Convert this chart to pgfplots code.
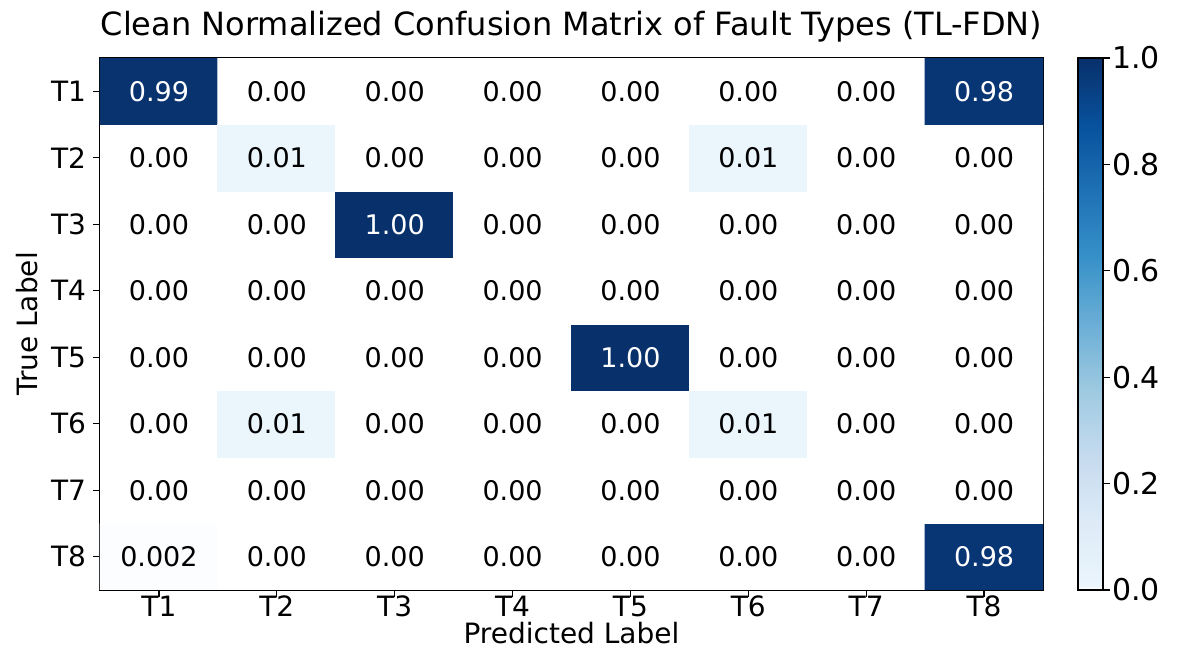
\documentclass[border=0pt]{standalone}
\usepackage{fontspec}
\setmainfont{DejaVu Sans}
\usepackage{pgfplots}
\usepackage{pgfplotstable}
\pgfplotsset{compat=1.18}
\pgfkeys{/pgf/number format/assume math mode=true}
\pgfplotstableread{
x y c lbl
0 0 0.002 0.002
1 0 0 0.00
2 0 0 0.00
3 0 0 0.00
4 0 0 0.00
5 0 0 0.00
6 0 0 0.00
7 0 0.98 0.98
0 1 0 0.00
1 1 0 0.00
2 1 0 0.00
3 1 0 0.00
4 1 0 0.00
5 1 0 0.00
6 1 0 0.00
7 1 0 0.00
0 2 0 0.00
1 2 0.01 0.01
2 2 0 0.00
3 2 0 0.00
4 2 0 0.00
5 2 0.01 0.01
6 2 0 0.00
7 2 0 0.00
0 3 0 0.00
1 3 0 0.00
2 3 0 0.00
3 3 0 0.00
4 3 1.00 1.00
5 3 0 0.00
6 3 0 0.00
7 3 0 0.00
0 4 0 0.00
1 4 0 0.00
2 4 0 0.00
3 4 0 0.00
4 4 0 0.00
5 4 0 0.00
6 4 0 0.00
7 4 0 0.00
0 5 0 0.00
1 5 0 0.00
2 5 1.00 1.00
3 5 0 0.00
4 5 0 0.00
5 5 0 0.00
6 5 0 0.00
7 5 0 0.00
0 6 0 0.00
1 6 0.01 0.01
2 6 0 0.00
3 6 0 0.00
4 6 0 0.00
5 6 0.01 0.01
6 6 0 0.00
7 6 0 0.00
0 7 0.99 0.99
1 7 0 0.00
2 7 0 0.00
3 7 0 0.00
4 7 0 0.00
5 7 0 0.00
6 7 0 0.00
7 7 0.98 0.98
}\cm
\begin{document}
\begin{tikzpicture}
\begin{axis}[
  at={(0,0)}, anchor=south west,
  scale only axis, width=471.5pt, height=266pt,
  xmin=-0.5, xmax=7.5, ymin=-0.5, ymax=7.5, enlargelimits=false,
  xtick={0,...,7}, xticklabels={T1,T2,T3,T4,T5,T6,T7,T8},
  ytick={0,...,7}, yticklabels={T8,T7,T6,T5,T4,T3,T2,T1},
  tick pos=left, tick align=outside, major tick length=3.5pt,
  tick style={black, line width=0.6pt},
  axis line style={line width=0.6pt},
  ticklabel style={font=\fontsize{14}{16}\selectfont},
  xticklabel style={yshift=4pt},
  title={Clean Normalized Confusion Matrix of Fault Types (TL-FDN)},
  title style={font=\fontsize{16}{19}\selectfont, at={(axis description cs:0.5,1)}, anchor=base, yshift=5.5pt},
  xlabel={Predicted Label}, ylabel={True Label},
  every axis x label/.style={at={(axis description cs:0.5,0)}, anchor=base, yshift=-27pt, font=\fontsize{14}{16}\selectfont},
  every axis y label/.style={at={(axis description cs:-0.0668,0.5)}, anchor=base, rotate=90, font=\fontsize{14}{16}\selectfont},
  colormap={blues}{rgb255(0)=(255,255,255) rgb255(1)=(234,245,252) rgb255(12.5)=(222,235,247) rgb255(25)=(198,219,239) rgb255(37.5)=(158,202,225) rgb255(50)=(107,174,214) rgb255(62.5)=(55,145,200) rgb255(75)=(30,113,181) rgb255(87.5)=(8,81,156) rgb255(100)=(8,48,107)},
  point meta min=0, point meta max=1,
  colorbar,
  colorbar style={
    at={(parent axis.north east)}, anchor=north west, xshift=9pt,
    scale only axis, width=12.5pt, height=266pt,
    ytick={0,0.2,0.4,0.6,0.8,1}, xtick=\empty,
    ytick pos=right,
    yticklabel style={font=\fontsize{15}{17}\selectfont, xshift=-2.5pt, /pgf/number format/.cd, fixed, fixed zerofill, precision=1, assume math mode=true},
    tick align=outside, major tick length=3.5pt,
    tick style={black, line width=0.6pt},
    axis line style={line width=0.6pt},
  },
]
\addplot[matrix plot*, mesh/cols=8, point meta=explicit] table[x=x, y=y, meta=c] {\cm};
\addplot[only marks, mark=none, point meta=explicit symbolic,
  restrict expr to domain={\thisrow{c}}{-1:0.5},
  nodes near coords, nodes near coords align={center},
  every node near coord/.append style={font=\fontsize{13.5}{16}\selectfont, text=black, anchor=center}]
  table[x=x, y=y, meta=lbl] {\cm};
\addplot[only marks, mark=none, point meta=explicit symbolic,
  restrict expr to domain={\thisrow{c}}{0.5:2},
  nodes near coords, nodes near coords align={center},
  every node near coord/.append style={font=\fontsize{13.5}{16}\selectfont, text=white, anchor=center}]
  table[x=x, y=y, meta=lbl] {\cm};
\end{axis}
\pgfresetboundingbox
\path (-50pt,-31pt) rectangle (538.5pt,295pt);
\end{tikzpicture}
\end{document}
